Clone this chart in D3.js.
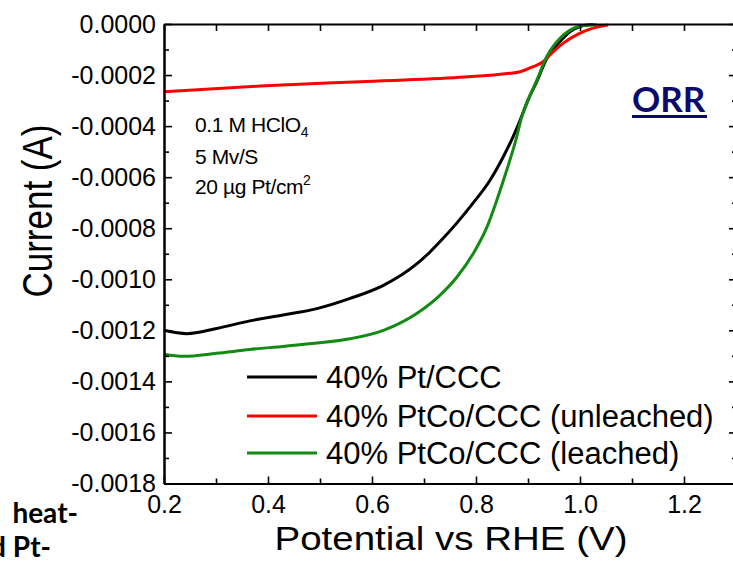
<!DOCTYPE html>
<html>
<head>
<meta charset="utf-8">
<script src="https://cdn.jsdelivr.net/npm/d3@7"></script>
<style>
  body { margin: 0; background: #fff; }
  svg { display: block; font-family: "Liberation Sans", Arial, sans-serif; }
</style>
</head>
<body>
<script>
const width = 733;
const height = 561;

// x = potential (V vs RHE), y = current (A)
const ptV = [0.2, 0.244, 0.301, 0.365, 0.429, 0.494, 0.558, 0.622, 0.686, 0.712, 0.731, 0.763, 0.795, 0.827, 0.852, 0.871, 0.885, 0.9, 0.917, 0.936, 0.962, 0.981, 1.0, 1.025];
const ptI = [-0.001200, -0.001213, -0.001193, -0.001163, -0.001140, -0.001115, -0.001075, -0.001024, -0.000940, -0.000892, -0.000852, -0.000780, -0.000700, -0.000612, -0.000522, -0.000443, -0.000376, -0.000298, -0.000225, -0.000135, -0.000068, -0.000030, -0.000010, -0.000002];

const unleachedV = [0.2, 0.385, 0.577, 0.769, 0.865, 0.885, 0.91, 0.929, 0.948, 0.968, 1.0, 1.025, 1.054];
const unleachedI = [-0.000265, -0.000243, -0.000226, -0.000209, -0.000193, -0.000187, -0.000167, -0.000148, -0.000109, -0.000075, -0.000036, -0.000016, -0.000004];

const leachedV = [0.2, 0.237, 0.301, 0.365, 0.429, 0.494, 0.558, 0.622, 0.686, 0.731, 0.763, 0.795, 0.821, 0.840, 0.859, 0.875, 0.888, 0.9, 0.917, 0.936, 0.962, 0.981, 1.0, 1.032];
const leachedI = [-0.001294, -0.001302, -0.001290, -0.001275, -0.001263, -0.001250, -0.001233, -0.001200, -0.001134, -0.001062, -0.000992, -0.000898, -0.000796, -0.000690, -0.000573, -0.000467, -0.000365, -0.000298, -0.000220, -0.000128, -0.000055, -0.000024, -0.000008, -0.000003];

const seriesNames = ['40% Pt/CCC', '40% PtCo/CCC (unleached)', '40% PtCo/CCC (leached)'];
const seriesColors = ['#000000', '#ff0000', '#138a13'];

const xMajor = [0.2, 0.4, 0.6, 0.8, 1.0, 1.2];
const xMinor = [0.3, 0.5, 0.7, 0.9, 1.1];
const yMajor = [0, -0.0002, -0.0004, -0.0006, -0.0008, -0.0010, -0.0012, -0.0014, -0.0016, -0.0018];
const yMinor = [-0.0001, -0.0003, -0.0005, -0.0007, -0.0009, -0.0011, -0.0013, -0.0015, -0.0017];

const x = d3.scaleLinear().domain([0.2, 1.3]).range([164, 736]);
const y = d3.scaleLinear().domain([-0.0018, 0]).range([483.5, 24]);

const svg = d3.select('body').append('svg')
  .attr('width', width)
  .attr('height', height);

svg.append('rect').attr('width', width).attr('height', height).attr('fill', '#fff');

// curves
const series = [
  { v: ptV, i: ptI },
  { v: unleachedV, i: unleachedI },
  { v: leachedV, i: leachedI }
];
const line = d3.line()
  .x(d => x(d[0]))
  .y(d => y(d[1]))
  .curve(d3.curveMonotoneX);

series.forEach((s, k) => {
  svg.append('path')
    .datum(s.v.map((v, j) => [v, s.i[j]]))
    .attr('d', line)
    .attr('fill', 'none')
    .attr('stroke', seriesColors[k])
    .attr('stroke-width', 3)
    .attr('stroke-linejoin', 'round');
});

// axes
function styleAxis(g) {
  g.selectAll('path.domain').attr('stroke', '#000').attr('stroke-width', 2);
  g.selectAll('.tick line').attr('stroke', '#000').attr('stroke-width', 1.6);
  g.selectAll('.tick text').attr('fill', '#000').attr('font-size', 25)
    .attr('font-family', '"Liberation Sans", Arial, sans-serif');
}

svg.append('g')
  .attr('transform', 'translate(0,483.5)')
  .call(d3.axisBottom(x).tickValues(xMajor).tickSize(-7).tickSizeOuter(0).tickPadding(12).tickFormat(d3.format('.1f')))
  .call(styleAxis);
svg.append('g')
  .attr('transform', 'translate(0,483.5)')
  .call(d3.axisBottom(x).tickValues(xMinor).tickSize(-5).tickSizeOuter(0).tickFormat(''))
  .call(styleAxis);

svg.append('g')
  .attr('transform', 'translate(0,24)')
  .call(d3.axisTop(x).tickValues(xMajor.concat(xMinor)).tickSize(-7).tickSizeOuter(0).tickFormat(''))
  .call(styleAxis);

svg.append('g')
  .attr('transform', 'translate(164,0)')
  .call(d3.axisLeft(y).tickValues(yMajor).tickSize(-8).tickSizeOuter(0).tickPadding(8).tickFormat(d => d.toFixed(4)))
  .call(styleAxis);
svg.append('g')
  .attr('transform', 'translate(164,0)')
  .call(d3.axisLeft(y).tickValues(yMinor).tickSize(-5).tickSizeOuter(0).tickFormat(''))
  .call(styleAxis);

svg.append('g')
  .attr('transform', 'translate(736,0)')
  .call(d3.axisRight(y).tickValues(yMajor).tickSize(-7).tickSizeOuter(0).tickFormat(''))
  .call(styleAxis);
svg.append('g')
  .attr('transform', 'translate(736,0)')
  .call(d3.axisRight(y).tickValues(yMinor).tickSize(-4).tickSizeOuter(0).tickFormat(''))
  .call(styleAxis);

// axis titles
svg.append('text')
  .attr('x', 451).attr('y', 550)
  .attr('text-anchor', 'middle')
  .attr('font-size', 34)
  .attr('textLength', 353)
  .attr('lengthAdjust', 'spacingAndGlyphs')
  .text('Potential vs RHE (V)');

svg.append('text')
  .attr('transform', 'translate(52,211) rotate(-90)')
  .attr('text-anchor', 'middle')
  .attr('font-size', 42)
  .attr('textLength', 173)
  .attr('lengthAdjust', 'spacingAndGlyphs')
  .text('Current (A)');

// legend
const legend = svg.append('g');
const legendY = [377, 416, 453];
seriesNames.forEach((name, k) => {
  legend.append('line')
    .attr('x1', 247).attr('x2', 317)
    .attr('y1', legendY[k]).attr('y2', legendY[k])
    .attr('stroke', seriesColors[k])
    .attr('stroke-width', 3);
  legend.append('text')
    .attr('x', 326).attr('y', legendY[k] + 11)
    .attr('font-size', 31)
    .text(name);
});

// conditions note
const note = svg.append('g')
  .attr('font-size', 21)
  .attr('letter-spacing', -0.4);
const n1 = note.append('text').attr('x', 195).attr('y', 132);
n1.append('tspan').text('0.1 M HClO');
n1.append('tspan').attr('font-size', 14).attr('dy', 5).text('4');
note.append('text').attr('x', 195).attr('y', 164).text('5 Mv/S');
const n3 = note.append('text').attr('x', 195).attr('y', 194);
n3.append('tspan').text('20 \u00b5g Pt/cm');
n3.append('tspan').attr('font-size', 14).attr('dy', -9).text('2');

// ORR label
svg.append('text')
  .attr('x', 632).attr('y', 112)
  .attr('font-family', 'Lato, "Open Sans", sans-serif')
  .attr('font-weight', 'bold')
  .attr('font-size', 35)
  .attr('fill', '#0b0b6e')
  .text('ORR');
svg.append('rect')
  .attr('x', 632).attr('y', 115)
  .attr('width', 75).attr('height', 3)
  .attr('fill', '#0b0b6e');

// clipped caption fragments at the lower left
const frag = svg.append('g')
  .attr('font-family', 'Lato, "Open Sans", sans-serif')
  .attr('font-weight', 'bold')
  .attr('font-size', 28)
  .attr('text-anchor', 'end');
frag.append('text').attr('x', 78).attr('y', 523).text('heat-');
frag.append('text').attr('x', 51).attr('y', 557).text('d Pt-');
</script>
</body>
</html>
